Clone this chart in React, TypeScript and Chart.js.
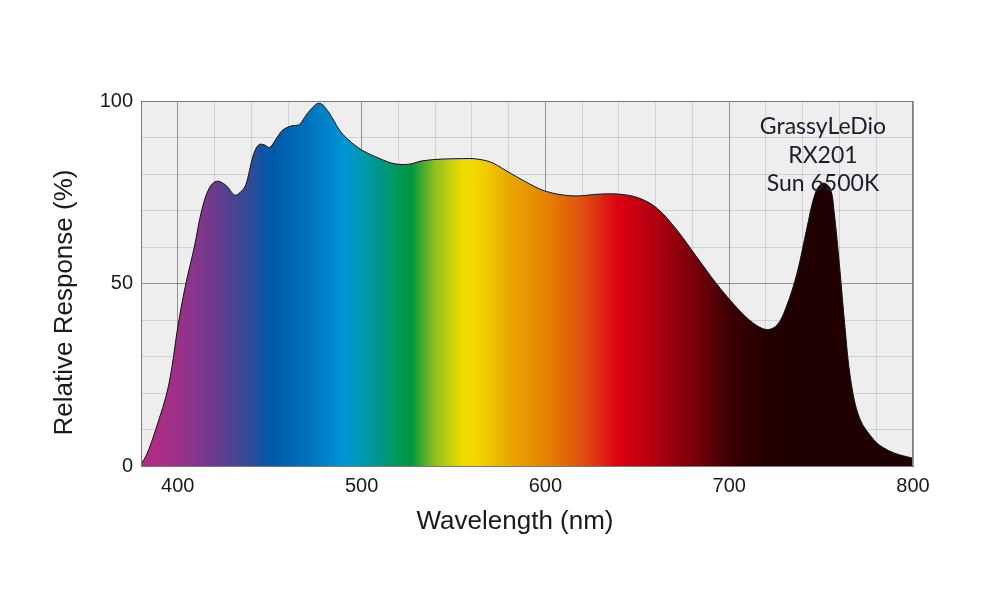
import React, { useEffect, useRef } from "react";
import { Chart, registerables } from "chart.js";

Chart.register(...registerables);

const wavelengths = [380, 383, 388, 395, 400, 404, 409, 413, 417, 421, 426, 431, 434, 437, 441, 444, 447, 450, 454, 457, 462, 466, 469, 472, 477, 482, 488, 493, 500, 510, 518, 526, 533, 544, 555, 561, 570, 578, 588, 600, 615, 630, 642, 652, 661, 671, 682, 693, 702, 711, 720, 726, 731, 737, 742, 747, 751, 755, 757, 760, 763, 766, 771, 779, 784, 790, 800];
const response = [0.5, 3, 10, 22, 38, 49, 60, 70, 76, 78, 77, 74.2, 75, 77, 85, 88, 88, 87.3, 90, 92, 93.2, 93.5, 95.5, 97.5, 99.4, 97, 92, 89.3, 86.6, 84.2, 82.8, 82.7, 83.6, 84.1, 84.2, 84.2, 83.3, 81.1, 78.2, 75.3, 74, 74.5, 74.4, 73.2, 70.5, 65, 57.5, 50, 44.6, 40, 37.4, 38.6, 43.5, 53, 64.5, 75, 77.5, 76, 70, 55, 38, 24, 13, 7, 5, 3.5, 2.1];

const gradientNm = [380, 400, 420, 440, 450, 470, 480, 490, 500, 510, 520, 527, 540, 555, 565, 580, 600, 620, 640, 660, 680, 700, 720, 800];
const gradientColors = ["#b72a82", "#9d3189", "#6c3b8e", "#2d4b9a", "#0059a8", "#0070bb", "#0080c8", "#0096d8", "#0098b0", "#00968a", "#009a55", "#00963e", "#90c020", "#f0dc00", "#f2d200", "#eaa800", "#e58500", "#e05010", "#dc0012", "#b00010", "#7a000a", "#3c0004", "#220000", "#1e0000"];

const xTickLabels = [400, 500, 600, 700, 800];
const yTickLabels = [0, 50, 100];
const xTitle = "Wavelength (nm)";
const yTitle = "Relative Response (%)";
const annotationLines = ["GrassyLeDio", "RX201", "Sun 6500K"];

const bgPlugin = {
  id: "plotBg",
  beforeDraw(chart: any) {
    const { ctx, chartArea } = chart;
    if (!chartArea) return;
    ctx.save();
    ctx.fillStyle = "#eeeeee";
    ctx.fillRect(chartArea.left, chartArea.top, chartArea.right - chartArea.left, chartArea.bottom - chartArea.top);
    ctx.restore();
  },
  afterDraw(chart: any) {
    const { ctx, chartArea, scales } = chart;
    ctx.save();
    ctx.strokeStyle = "#7a7a7a";
    ctx.lineWidth = 1;
    ctx.strokeRect(chartArea.left + 0.5, chartArea.top + 0.5, chartArea.right - chartArea.left - 1, chartArea.bottom - chartArea.top);

    // axis titles
    ctx.fillStyle = "#1a1a1a";
    ctx.font = "26px Arial, 'Liberation Sans', sans-serif";
    ctx.textAlign = "center";
    ctx.textBaseline = "middle";
    const midX = (chartArea.left + chartArea.right) / 2;
    const midY = (chartArea.top + chartArea.bottom) / 2;
    ctx.fillText(xTitle, midX - 12, chartArea.bottom + 56);
    ctx.save();
    ctx.translate(65, midY + 19);
    ctx.rotate(-Math.PI / 2);
    ctx.fillText(yTitle, 0, 0);
    ctx.restore();

    // annotation
    ctx.font = "23px Lato, 'DejaVu Sans', sans-serif";
    ctx.fillStyle = "#1d1d30";
    const cx = scales.x.getPixelForValue(751);
    const ys = [93, 85, 77.5];
    annotationLines.forEach((t, i) => {
      ctx.fillText(t, cx, scales.y.getPixelForValue(ys[i]));
    });
    ctx.restore();
  },
};

function makeGradient(context: any) {
  const chart = context.chart;
  const { ctx, chartArea, scales } = chart;
  if (!chartArea || !scales.x) return "#666";
  const x0 = scales.x.getPixelForValue(380);
  const x1 = scales.x.getPixelForValue(800);
  const g = ctx.createLinearGradient(x0, 0, x1, 0);
  gradientNm.forEach((nm, i) => {
    g.addColorStop((nm - 380) / 420, gradientColors[i]);
  });
  return g;
}

export default function App() {
  const ref = useRef<HTMLCanvasElement>(null);
  useEffect(() => {
    if (!ref.current) return;
    const chart = new Chart(ref.current, {
      type: "line",
      data: {
        datasets: [
          {
            data: wavelengths.map((w, i) => ({ x: w, y: response[i] })),
            fill: "origin",
            backgroundColor: makeGradient,
            borderColor: "#111111",
            borderWidth: 1,
            pointRadius: 0,
            tension: 0.35,
          },
        ],
      },
      options: {
        animation: false,
        responsive: false,
        maintainAspectRatio: false,
        layout: { padding: { left: 50, right: 87, top: 101, bottom: 63 } },
        plugins: { legend: { display: false }, tooltip: { enabled: false } },
        scales: {
          x: {
            type: "linear",
            min: 380,
            max: 800,
            z: 1,
            afterFit: (s: any) => { s.height = 71; },
            ticks: {
              stepSize: 20,
              autoSkip: false,
              maxRotation: 0,
              padding: 8,
              color: "#1a1a1a",
              font: { family: "Arial, 'Liberation Sans', sans-serif", size: 20 },
              callback: (v: any) => (xTickLabels.includes(Number(v)) ? String(v) : ""),
            },
            grid: {
              drawTicks: false,
              color: (c: any) => (c.tick && c.tick.value % 100 === 0 ? "rgba(0,0,0,0.38)" : "rgba(0,0,0,0.12)"),
            },
            border: { color: "#7a7a7a", width: 1 },
            title: { display: false },
          },
          y: {
            min: 0,
            max: 100,
            z: 1,
            afterFit: (s: any) => { s.width = 91; },
            ticks: {
              stepSize: 10,
              autoSkip: false,
              padding: 8,
              color: "#1a1a1a",
              font: { family: "Arial, 'Liberation Sans', sans-serif", size: 20 },
              callback: (v: any) => (yTickLabels.includes(Number(v)) ? String(v) : ""),
            },
            grid: {
              drawTicks: false,
              color: (c: any) => (c.tick && c.tick.value % 50 === 0 ? "rgba(0,0,0,0.38)" : "rgba(0,0,0,0.12)"),
            },
            border: { color: "#7a7a7a", width: 1 },
            title: { display: false },
          },
        },
      },
      plugins: [bgPlugin],
    } as any);
    return () => chart.destroy();
  }, []);
  return (
    <div style={{ position: "fixed", left: 0, top: 0, width: 1000, height: 600, background: "#fff" }}>
      <canvas ref={ref} width={1000} height={600} style={{ width: 1000, height: 600 }} />
    </div>
  );
}
